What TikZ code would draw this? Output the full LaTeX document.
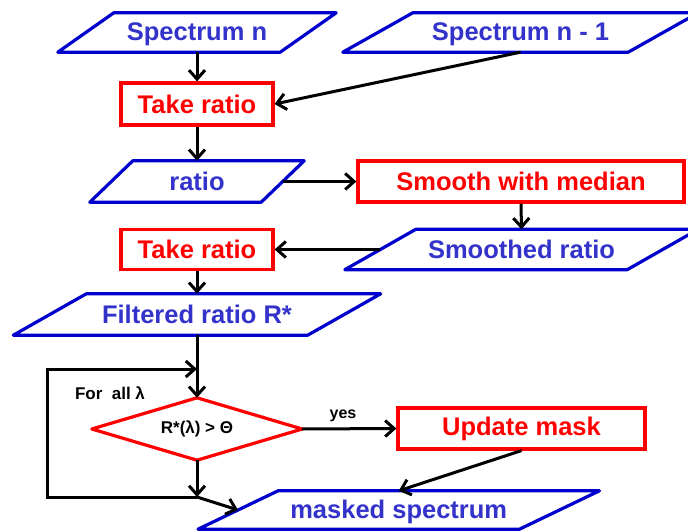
\documentclass[tikz,border=0pt]{standalone}
\usepackage{fontspec}
\setmainfont{Liberation Sans}
\usetikzlibrary{arrows.meta,calc}
\definecolor{bblue}{RGB}{0,0,204}
\definecolor{tblue}{RGB}{51,51,204}
\definecolor{rred}{RGB}{255,0,0}
\newcommand\ioframe[2]{\draw[ioline] ($(#1.south west)+(-#2,0)$) -- ($(#1.south east)+(-#2,0)$) -- ($(#1.north east)+(#2,0)$) -- ($(#1.north west)+(#2,0)$) -- cycle;}
\begin{document}
\begin{tikzpicture}[x=1pt,y=-1pt,
  ioline/.style={draw=bblue,line width=3.2pt,line join=round},
  iotext/.style={inner sep=0pt,text=tblue,font=\fontsize{25.5}{30}\selectfont\bfseries,text depth=1pt},
  procbox/.style={draw=rred,line width=3.2pt,inner sep=0pt,text=rred,font=\fontsize{25.5}{30}\selectfont\bfseries},
  diaborder/.style={draw=rred,line width=3.2pt,line join=round},
  smalltext/.style={inner sep=0pt,font=\fontsize{17}{20}\selectfont\bfseries},
  conn/.style={line width=3pt,-{Straight Barb[length=9pt,width=16pt]}}]
\useasboundingbox[fill=white] (0,0) rectangle (688,532);

\node[iotext,minimum width=222pt,minimum height=39pt] (sn) at (197,32.5) {Spectrum n};
\node[iotext,minimum width=285pt,minimum height=39pt] (sn1) at (520.5,32.5) {Spectrum n - 1};
\node[procbox,minimum width=152pt,minimum height=42pt] (tr1) at (197,104) {Take ratio};
\node[iotext,minimum width=171pt,minimum height=41pt] (ratio) at (197,181.5) {ratio};
\node[procbox,minimum width=326pt,minimum height=41pt] (sm) at (521,181.5) {Smooth with median};
\node[iotext,minimum width=282pt,minimum height=40pt] (smr) at (521.5,249.5) {Smoothed ratio};
\node[procbox,minimum width=152pt,minimum height=40pt] (tr2) at (197,249.5) {Take ratio};
\node[iotext,minimum width=294pt,minimum height=41pt] (fr) at (197,314.5) {Filtered ratio R*};
\node[smalltext,minimum width=210pt,minimum height=62pt] (dia) at (197,429) {R*(λ) > Θ};
\node[procbox,minimum width=247pt,minimum height=41pt] (um) at (521.5,428.5) {Update mask};
\node[iotext,minimum width=321pt,minimum height=38pt] (ms) at (398.75,510) {masked spectrum};
\node[smalltext] (fa) at (110,393) {For\ \ all λ};
\node[smalltext,font=\fontsize{16}{19}\selectfont\bfseries] (yes) at (343,416) {yes};

\ioframe{sn}{28}
\ioframe{sn1}{35}
\ioframe{ratio}{21.5}
\ioframe{smr}{35.5}
\ioframe{fr}{36.5}
\ioframe{ms}{40}
\draw[diaborder] (dia.north) -- (dia.east) -- (dia.south) -- (dia.west) -- cycle;

\coordinate (jt) at (197,369);
\coordinate (jb) at (197,497);
\coordinate (lc) at (47,497);

\draw[conn] (sn.south) -- (tr1.north);
\draw[conn] (sn1.south) -- (tr1.east);
\draw[conn] (tr1.south) -- (ratio.north);
\draw[conn] (ratio.east) -- (sm.west);
\draw[conn] (sm.south) -- (smr.north);
\draw[conn] (smr.west) -- (tr2.east);
\draw[conn] (tr2.south) -- (fr.north);
\draw[conn] (fr.south) -- (dia.north);
\draw[conn] (dia.south) -- (jb);
\draw[conn] (jb) -- (lc) |- (jt);
\draw[conn] (jb) -- (ms.west);
\draw[conn] (dia.east) -- (um.west);
\draw[conn] (um.south) -- (ms.north);
\end{tikzpicture}
\end{document}
